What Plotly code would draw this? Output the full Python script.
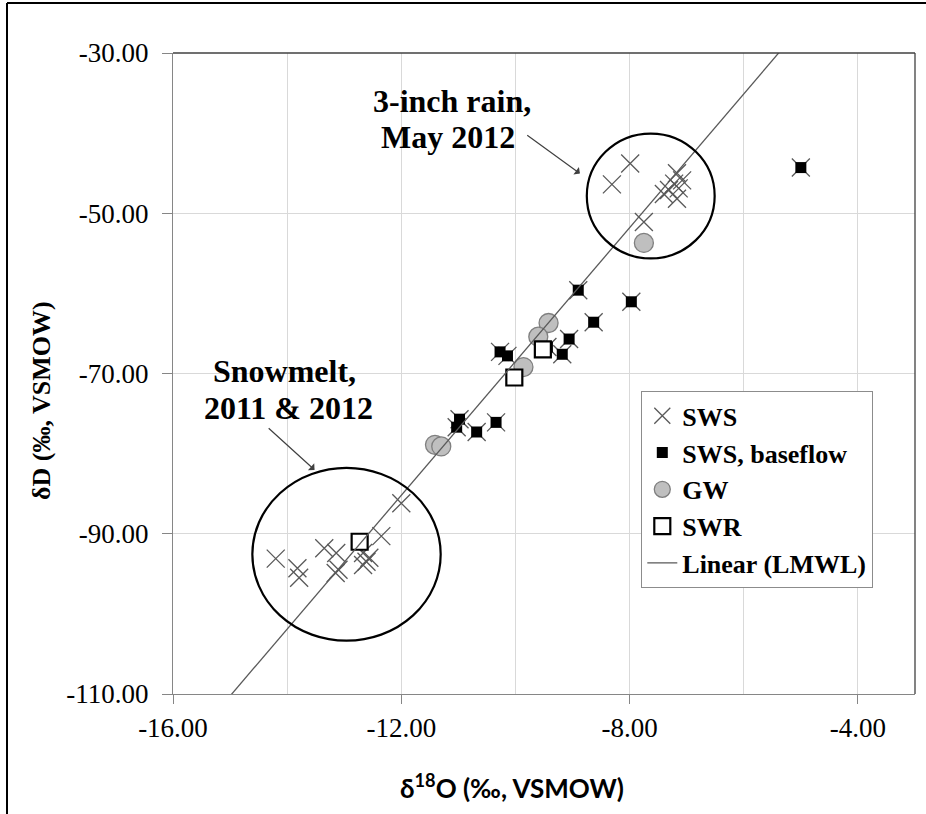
import plotly.graph_objects as go

# ---------------- data ----------------
sws_x = [-7.99, -8.31, -7.17, -7.08, -7.22, -7.14, -7.31, -7.40, -7.17, -7.75,
         -14.20, -13.82, -13.79, -13.35, -13.14, -13.15, -13.10, -12.67, -12.61,
         -12.56, -12.67, -12.35, -12.00]
sws_y = [-43.8, -46.4, -45.0, -45.9, -46.3, -46.9, -47.1, -47.6, -48.2, -51.1,
         -93.1, -94.3, -95.5, -91.8, -92.4, -94.9, -94.5, -92.4, -93.5,
         -93.0, -93.9, -90.3, -86.2]

base_x = [-8.90, -7.97, -8.63, -9.06, -10.27, -10.14, -9.44, -9.18,
          -10.98, -11.03, -10.68, -10.34, -5.00]
base_y = [-59.6, -61.05, -63.6, -65.7, -67.3, -67.8, -66.7, -67.6,
          -75.7, -76.7, -77.3, -76.1, -44.3]

gw_x = [-7.75, -9.42, -9.60, -9.86, -11.41, -11.30]
gw_y = [-53.7, -63.7, -65.4, -69.2, -78.9, -79.1]

swr_x = [-9.52, -10.02, -12.73]
swr_y = [-67.0, -70.5, -91.0]

lmwl_slope = 8.35
lmwl_intercept = 15.0
lmwl_x = [-16.0, -3.0]
lmwl_y = [lmwl_slope * v + lmwl_intercept for v in lmwl_x]

x_ticks = [-16, -12, -8, -4]
x_ticklabels = ["-16.00", "-12.00", "-8.00", "-4.00"]
y_ticks = [-110, -90, -70, -50, -30]
y_ticklabels = ["-110.00", "-90.00", "-70.00", "-50.00", "-30.00"]

# ---------------- figure ----------------
SERIF = "Liberation Serif, Times New Roman, serif"
L, R, T, B = 173, 915, 53, 694


def px(xp):
    return (xp - L) / (R - L)


def py(yp):
    return (B - yp) / (B - T)


fig = go.Figure()

fig.add_trace(go.Scatter(
    x=sws_x + base_x, y=sws_y + base_y, mode="markers", name="SWS",
    marker=dict(symbol="x-thin", size=18, color="#595959",
                line=dict(width=1.3, color="#595959"))))

fig.add_trace(go.Scatter(
    x=base_x, y=base_y, mode="markers", name="SWS, baseflow",
    marker=dict(symbol="square", size=11, color="black", line=dict(width=0))))

fig.add_trace(go.Scatter(
    x=gw_x, y=gw_y, mode="markers", name="GW",
    marker=dict(symbol="circle", size=19, color="#BFBFBF",
                line=dict(width=1.3, color="#7F7F7F"))))

fig.add_trace(go.Scatter(
    x=swr_x, y=swr_y, mode="markers", name="SWR",
    marker=dict(symbol="square", size=16, color="white",
                line=dict(width=2.2, color="black"))))

fig.add_trace(go.Scatter(
    x=lmwl_x, y=lmwl_y, mode="lines", name="Linear (LMWL)",
    line=dict(color="#595959", width=1.3)))

shapes = [
    dict(type="circle", xref="x", yref="y", x0=-8.75, x1=-6.51, y0=-55.64, y1=-40.05,
         line=dict(color="black", width=2.2)),
    dict(type="circle", xref="x", yref="y", x0=-14.61, x1=-11.31, y0=-103.35, y1=-81.78,
         line=dict(color="black", width=2.2)),
    dict(type="line", xref="paper", yref="paper", x0=0, x1=1, y0=1, y1=1,
         line=dict(color="#404040", width=1.3), layer="above"),
    dict(type="line", xref="paper", yref="paper", x0=1, x1=1, y0=0, y1=1,
         line=dict(color="#404040", width=1.3), layer="above"),
    dict(type="line", xref="paper", yref="paper", x0=px(7), x1=px(7), y0=py(820), y1=py(3),
         line=dict(color="black", width=2)),
    dict(type="line", xref="paper", yref="paper", x0=px(7), x1=px(930), y0=py(3), y1=py(3),
         line=dict(color="black", width=2)),
]

TXT = dict(family=SERIF, size=32, color="black", weight="bold")
annotations = [
    dict(x=-8.87, y=-45.04, ax=-9.82, ay=-40.14, xref="x", yref="y", axref="x", ayref="y",
         text="", showarrow=True, arrowhead=1, arrowsize=1.3, arrowwidth=1.2, arrowcolor="#404040"),
    dict(x=-13.52, y=-82.03, ax=-14.35, ay=-76.67, xref="x", yref="y", axref="x", ayref="y",
         text="", showarrow=True, arrowhead=1, arrowsize=1.3, arrowwidth=1.2, arrowcolor="#404040"),
    dict(x=px(452), y=py(101), xref="paper", yref="paper", xanchor="center", yanchor="middle",
         text="3-inch rain,", showarrow=False, font=TXT),
    dict(x=px(448), y=py(137), xref="paper", yref="paper", xanchor="center", yanchor="middle",
         text="May 2012", showarrow=False, font=TXT),
    dict(x=px(284), y=py(371), xref="paper", yref="paper", xanchor="center", yanchor="middle",
         text="Snowmelt,", showarrow=False, font=TXT),
    dict(x=px(288), y=py(408), xref="paper", yref="paper", xanchor="center", yanchor="middle",
         text="2011 &amp; 2012", showarrow=False, font=TXT),
    dict(x=px(42), y=py(401), xref="paper", yref="paper", xanchor="center", yanchor="middle",
         text="δD (‰, VSMOW)", textangle=-90, showarrow=False,
         font=dict(family=SERIF, size=26, color="black", weight="bold")),
    dict(x=px(512), y=py(787), xref="paper", yref="paper", xanchor="center", yanchor="middle",
         text="δ<sup>18</sup>O (‰, VSMOW)", showarrow=False,
         font=dict(family="Lato, Open Sans, sans-serif", size=26, color="black", weight="bold")),
]

fig.update_layout(
    width=926, height=814,
    margin=dict(l=L, r=926 - R, t=T, b=814 - B),
    paper_bgcolor="white", plot_bgcolor="white",
    showlegend=True,
    legend=dict(x=px(641), y=py(391), xanchor="left", yanchor="top",
                bgcolor="white", bordercolor="#8C8C8C", borderwidth=1.3,
                font=dict(family=SERIF, size=26, color="black", weight="bold"),
                itemsizing="trace"),
    shapes=shapes, annotations=annotations,
    xaxis=dict(range=[-16, -3], tickvals=x_ticks, ticktext=x_ticklabels,
               showgrid=True, gridcolor="#D9D9D9", gridwidth=1.3,
               minor=dict(dtick=2, showgrid=True, gridcolor="#D9D9D9", gridwidth=1.3, ticks=""),
               showline=True, linecolor="#868686", linewidth=1.3,
               ticks="outside", ticklen=9, tickcolor="#868686", tickwidth=1.3,
               ticklabelstandoff=0,
               tickfont=dict(family=SERIF, size=27, color="black"),
               zeroline=False),
    yaxis=dict(range=[-110, -30], tickvals=y_ticks, ticktext=y_ticklabels,
               showgrid=True, gridcolor="#D9D9D9", gridwidth=1.3,
               showline=True, linecolor="#868686", linewidth=1.3,
               ticks="outside", ticklen=10, tickcolor="#868686", tickwidth=1.3,
               ticklabelstandoff=8,
               tickfont=dict(family=SERIF, size=27, color="black"),
               zeroline=False),
)

fig.write_html("out.html")
